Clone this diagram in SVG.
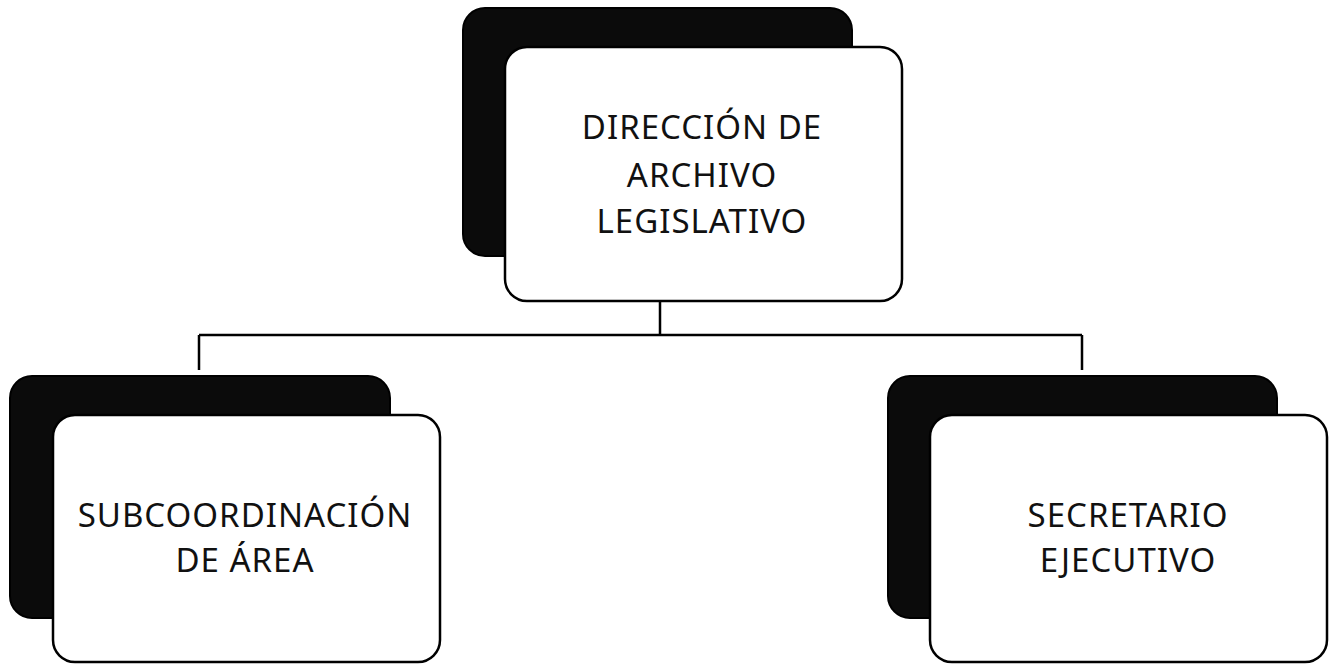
<svg xmlns="http://www.w3.org/2000/svg" width="1330" height="664" viewBox="0 0 1330 664">
<style>
.back{fill:#0b0b0b;stroke:#000;stroke-width:2}
.front{fill:#fff;stroke:#000;stroke-width:2.5}
.lbl{font-family:"Noto Sans","Open Sans",sans-serif;font-size:33px;letter-spacing:1px;fill:#111;text-anchor:middle}
.conn{fill:none;stroke:#000;stroke-width:2.5}
</style>
<rect width="1330" height="664" fill="#fff"/>
<g id="connectors">
<path class="conn" d="M660 300 V335 M199 335 H1082 M199 335 V370 M1082 335 V370"/>
</g>
<g id="node-direccion">
<rect class="back" x="463" y="8" width="389" height="248" rx="22"/>
<rect class="front" x="505" y="47" width="397" height="254" rx="22"/>
<text class="lbl" x="702" y="139">DIRECCIÓN DE</text>
<text class="lbl" x="702" y="187">ARCHIVO</text>
<text class="lbl" x="702" y="233">LEGISLATIVO</text>
</g>
<g id="node-subcoordinacion">
<rect class="back" x="10" y="376" width="380" height="242" rx="22"/>
<rect class="front" x="53" y="415" width="387" height="247" rx="22"/>
<text class="lbl" x="245" y="527">SUBCOORDINACIÓN</text>
<text class="lbl" x="245" y="572">DE ÁREA</text>
</g>
<g id="node-secretario">
<rect class="back" x="888" y="376" width="389" height="242" rx="22"/>
<rect class="front" x="930" y="415" width="397" height="247" rx="22"/>
<text class="lbl" x="1128" y="527">SECRETARIO</text>
<text class="lbl" x="1128" y="572">EJECUTIVO</text>
</g>
</svg>
